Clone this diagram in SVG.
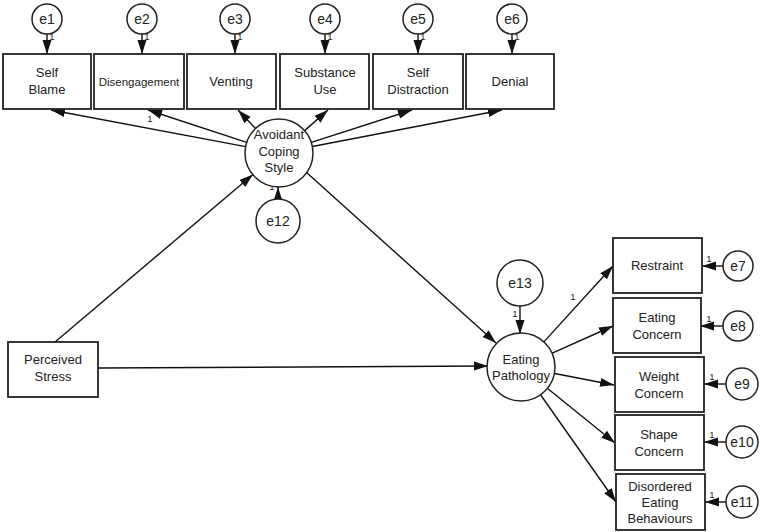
<svg xmlns="http://www.w3.org/2000/svg" width="760" height="532" viewBox="0 0 760 532">
<style>
text{font-family:"Liberation Sans",Arial,sans-serif;fill:#222;text-anchor:middle}
.lbl{font-size:13px}
.el{font-size:14px}
.small{font-size:11.5px}
.one{font-size:9.5px}
.box{fill:#fff;stroke:#222;stroke-width:1.8}
.circ{fill:#fff;stroke:#222;stroke-width:1.5}
.con line{stroke:#111;stroke-width:1.4;marker-end:url(#ah)}
</style>
<defs>
<marker id="ah" markerUnits="userSpaceOnUse" markerWidth="15" markerHeight="10" refX="14" refY="5" orient="auto">
<path d="M0,0.5 L14,5 L0,9.5 z" fill="#111"/>
</marker>
</defs>
<rect width="760" height="532" fill="#fff"/>
<g class="con" id="connectors">
<line x1="47" y1="34" x2="47" y2="54"/>
<line x1="142" y1="34" x2="142" y2="54"/>
<line x1="235" y1="34" x2="235" y2="54"/>
<line x1="325" y1="34" x2="325" y2="54"/>
<line x1="418" y1="34" x2="418" y2="54"/>
<line x1="512" y1="34" x2="512" y2="54"/>
<line x1="245.6" y1="146.6" x2="51" y2="110"/>
<line x1="246.7" y1="142.4" x2="148" y2="110"/>
<line x1="255.5" y1="128.4" x2="238" y2="110"/>
<line x1="304.6" y1="130.6" x2="328" y2="110"/>
<line x1="311.3" y1="142.4" x2="412" y2="110"/>
<line x1="312.4" y1="146.5" x2="502" y2="110"/>
<line x1="278" y1="199" x2="278" y2="187"/>
<line x1="55" y1="342" x2="253" y2="174.5"/>
<line x1="98" y1="368" x2="488" y2="366"/>
<line x1="306" y1="172" x2="496" y2="343"/>
<line x1="520" y1="306" x2="520" y2="334"/>
<line x1="543.2" y1="342.6" x2="613" y2="266"/>
<line x1="551.1" y1="353.6" x2="613" y2="326"/>
<line x1="553.4" y1="373.3" x2="614" y2="385"/>
<line x1="546.7" y1="387.7" x2="615" y2="443"/>
<line x1="540" y1="394" x2="616" y2="502"/>
<line x1="723" y1="266" x2="702" y2="266"/>
<line x1="723" y1="326" x2="700" y2="326"/>
<line x1="726" y1="384" x2="704" y2="384"/>
<line x1="726" y1="442" x2="704" y2="442"/>
<line x1="726" y1="502" x2="705" y2="502"/>
</g>
<g id="labels1">
<text class="one" x="52" y="40">1</text>
<text class="one" x="147" y="40">1</text>
<text class="one" x="240" y="40">1</text>
<text class="one" x="330" y="40">1</text>
<text class="one" x="423" y="40">1</text>
<text class="one" x="517" y="40">1</text>
<text class="one" x="150" y="122">1</text>
<text class="one" x="272" y="190">1</text>
<text class="one" x="515" y="317">1</text>
<text class="one" x="573" y="300">1</text>
<text class="one" x="709" y="262">1</text>
<text class="one" x="709" y="322">1</text>
<text class="one" x="712" y="380">1</text>
<text class="one" x="712" y="438">1</text>
<text class="one" x="712" y="498">1</text>
</g>
<g id="e1"><circle class="circ" cx="47" cy="19" r="15"/><text class="el" x="47" y="24">e1</text></g>
<g id="e2"><circle class="circ" cx="142" cy="19" r="15"/><text class="el" x="142" y="24">e2</text></g>
<g id="e3"><circle class="circ" cx="235" cy="19" r="15"/><text class="el" x="235" y="24">e3</text></g>
<g id="e4"><circle class="circ" cx="325" cy="19" r="15"/><text class="el" x="325" y="24">e4</text></g>
<g id="e5"><circle class="circ" cx="418" cy="19" r="15"/><text class="el" x="418" y="24">e5</text></g>
<g id="e6"><circle class="circ" cx="512" cy="19" r="15"/><text class="el" x="512" y="24">e6</text></g>
<g id="selfblame"><rect class="box" x="3" y="54" width="88" height="55"/><text class="lbl" x="47" y="77">Self</text><text class="lbl" x="47" y="94">Blame</text></g>
<g id="disengagement"><rect class="box" x="94" y="54" width="90" height="55"/><text class="small" x="139" y="86">Disengagement</text></g>
<g id="venting"><rect class="box" x="187" y="54" width="89" height="55"/><text class="lbl" x="231" y="86">Venting</text></g>
<g id="substance"><rect class="box" x="280" y="54" width="89" height="55"/><text class="lbl" x="325" y="77">Substance</text><text class="lbl" x="325" y="94">Use</text></g>
<g id="selfdistraction"><rect class="box" x="373" y="54" width="90" height="55"/><text class="lbl" x="418" y="77">Self</text><text class="lbl" x="418" y="94">Distraction</text></g>
<g id="denial"><rect class="box" x="466" y="54" width="88" height="55"/><text class="lbl" x="510" y="86">Denial</text></g>
<g id="avoidant"><circle class="circ" cx="279" cy="153" r="34"/><text class="lbl" x="279" y="139">Avoidant</text><text class="lbl" x="279" y="156">Coping</text><text class="lbl" x="279" y="172">Style</text></g>
<g id="e12"><circle class="circ" cx="278" cy="221" r="22"/><text class="el" x="278" y="226">e12</text></g>
<g id="perceived"><rect class="box" x="8" y="342" width="90" height="55"/><text class="lbl" x="53" y="364">Perceived</text><text class="lbl" x="53" y="381">Stress</text></g>
<g id="e13"><circle class="circ" cx="520" cy="283" r="23"/><text class="el" x="520" y="288">e13</text></g>
<g id="eating"><circle class="circ" cx="521" cy="367" r="34"/><text class="lbl" x="521" y="364">Eating</text><text class="lbl" x="521" y="380">Pathology</text></g>
<g id="restraint"><rect class="box" x="613" y="238" width="89" height="55"/><text class="lbl" x="657" y="270">Restraint</text></g>
<g id="eatingconcern"><rect class="box" x="613" y="298" width="88" height="55"/><text class="lbl" x="657" y="322">Eating</text><text class="lbl" x="657" y="339">Concern</text></g>
<g id="weightconcern"><rect class="box" x="615" y="357" width="89" height="55"/><text class="lbl" x="659" y="381">Weight</text><text class="lbl" x="659" y="398">Concern</text></g>
<g id="shapeconcern"><rect class="box" x="615" y="415" width="89" height="55"/><text class="lbl" x="659" y="439">Shape</text><text class="lbl" x="659" y="456">Concern</text></g>
<g id="disordered"><rect class="box" x="616" y="474" width="89" height="56"/><text class="lbl" x="660" y="491">Disordered</text><text class="lbl" x="660" y="507">Eating</text><text class="lbl" x="660" y="523">Behaviours</text></g>
<g id="e7"><circle class="circ" cx="738" cy="266" r="15"/><text class="el" x="738" y="271">e7</text></g>
<g id="e8"><circle class="circ" cx="738" cy="326" r="15"/><text class="el" x="738" y="331">e8</text></g>
<g id="e9"><circle class="circ" cx="742" cy="384" r="16"/><text class="el" x="742" y="389">e9</text></g>
<g id="e10"><circle class="circ" cx="742" cy="442" r="16"/><text class="el" x="742" y="447">e10</text></g>
<g id="e11"><circle class="circ" cx="742" cy="502" r="16"/><text class="el" x="742" y="507">e11</text></g>
</svg>
